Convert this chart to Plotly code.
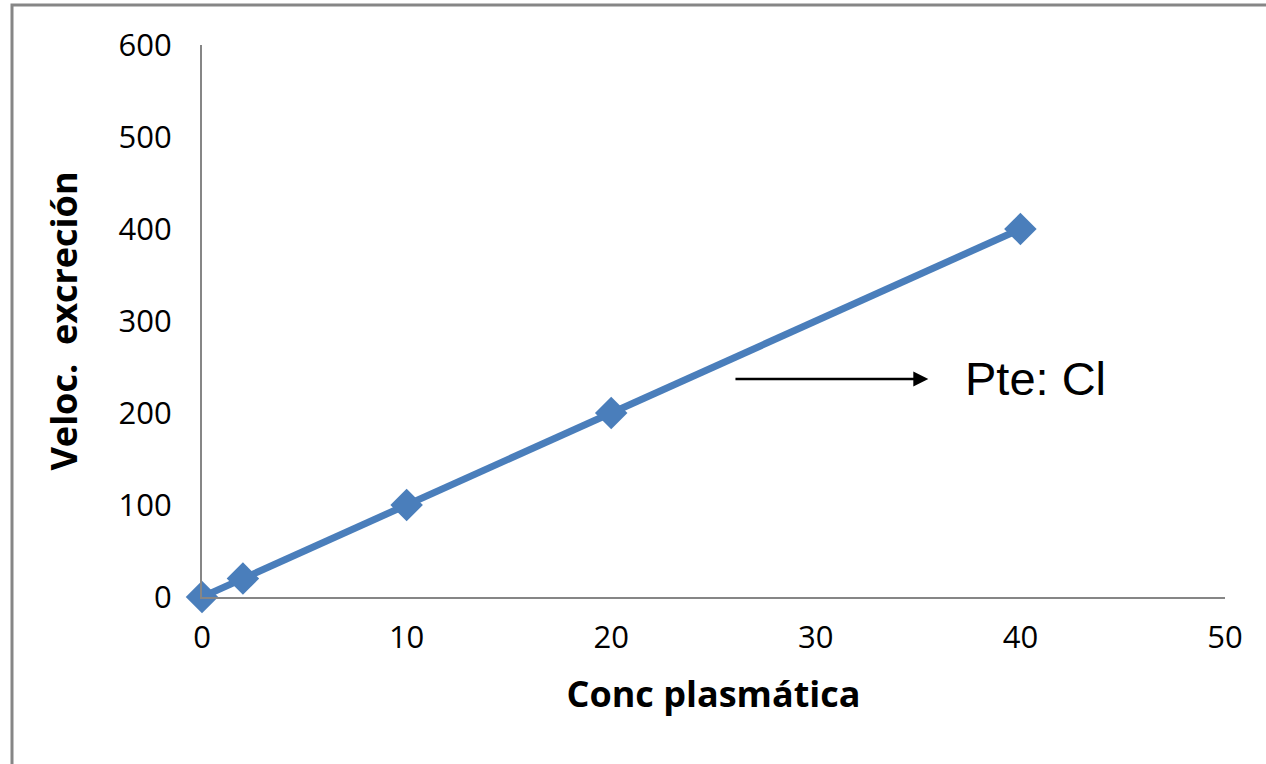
import plotly.graph_objects as go

conc = [0, 2, 10, 20, 40]
veloc = [0, 20, 100, 200, 400]
x_ticks = [0, 10, 20, 30, 40, 50]
y_ticks = [0, 100, 200, 300, 400, 500, 600]
x_title = "Conc plasmática"
y_title = "Veloc.  excreción"
note_text = "Pte: Cl"
arrow_from = (26, 237)
arrow_to = (35.5, 237)

W, H = 1266, 764
L, R, T, B = 202, 41, 45, 167
pw = W - L - R
ph = H - T - B

fig = go.Figure()
fig.add_trace(go.Scatter(
    x=conc, y=veloc, mode="lines+markers",
    line=dict(color="#4A7EBB", width=7),
    marker=dict(symbol="diamond", size=25, color="#4A7EBB"),
    cliponaxis=False, showlegend=False,
))

axis_common = dict(
    showline=True, linecolor="#868686", linewidth=2,
    showgrid=False, zeroline=False, ticks="",
    tickfont=dict(family="Open Sans", size=31, color="#000000"),
)
fig.update_xaxes(range=[0, 50], tickvals=x_ticks, ticklabelstandoff=12,
                 title=dict(text=x_title, font=dict(family="Open Sans", size=36, color="#000000", weight="bold"), standoff=26),
                 **axis_common)
fig.update_yaxes(range=[0, 600], tickvals=y_ticks, ticklabelstandoff=22,
                 title=dict(text=y_title, font=dict(family="Open Sans", size=36, color="#000000", weight="bold"), standoff=30),
                 **axis_common)

fig.add_annotation(x=arrow_to[0], y=arrow_to[1], ax=arrow_from[0], ay=arrow_from[1],
                   xref="x", yref="y", axref="x", ayref="y", text="",
                   showarrow=True, arrowhead=2, arrowsize=1.2, arrowwidth=2.5, arrowcolor="#000000")
fig.add_annotation(x=37.2, y=arrow_to[1], xref="x", yref="y", text=note_text,
                   showarrow=False, xanchor="left", yanchor="middle",
                   font=dict(family="Liberation Sans", size=47, color="#000000"))

# chart-area border (Excel-style)
fig.add_shape(type="rect", xref="paper", yref="paper",
              x0=(12 - L) / pw, x1=(W + 20 - L) / pw,
              y0=-(H + 20 - T - ph) / ph, y1=(H - 5 - B) / ph,
              line=dict(color="#868686", width=3), fillcolor="rgba(0,0,0,0)", layer="below")

fig.update_layout(
    width=W, height=H, margin=dict(l=L, r=R, t=T, b=B),
    paper_bgcolor="white", plot_bgcolor="white",
)
fig.write_html("out.html")
